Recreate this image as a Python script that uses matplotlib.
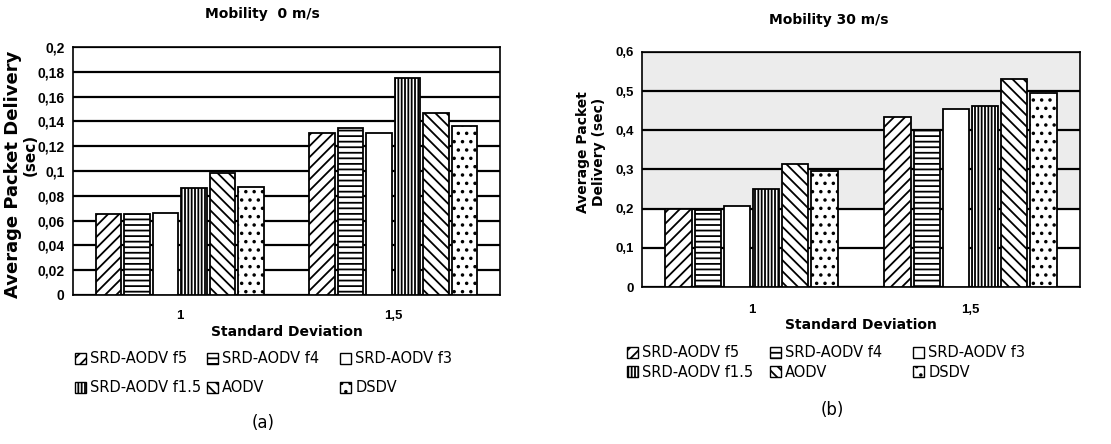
import numpy as np
import matplotlib
matplotlib.use('Agg')
import matplotlib.pyplot as plt
from matplotlib.patches import Patch

plt.rcParams['font.family'] = ['DejaVu Sans']
plt.rcParams['hatch.linewidth'] = 1.3

# data
categories = ['1', '1,5']
series = ['SRD-AODV f5', 'SRD-AODV f4', 'SRD-AODV f3',
          'SRD-AODV f1.5', 'AODV', 'DSDV']
mob0 = {
    'SRD-AODV f5':   [0.065, 0.131],
    'SRD-AODV f4':   [0.065, 0.135],
    'SRD-AODV f3':   [0.066, 0.131],
    'SRD-AODV f1.5': [0.086, 0.175],
    'AODV':          [0.098, 0.147],
    'DSDV':          [0.087, 0.136],
}
mob30 = {
    'SRD-AODV f5':   [0.200, 0.435],
    'SRD-AODV f4':   [0.196, 0.400],
    'SRD-AODV f3':   [0.206, 0.455],
    'SRD-AODV f1.5': [0.250, 0.463],
    'AODV':          [0.313, 0.532],
    'DSDV':          [0.295, 0.495],
}
ticks0 = [0, 0.02, 0.04, 0.06, 0.08, 0.1, 0.12, 0.14, 0.16, 0.18, 0.2]
ticks0_lab = ['0', '0,02', '0,04', '0,06', '0,08', '0,1', '0,12', '0,14',
              '0,16', '0,18', '0,2']
ticks30 = [0, 0.1, 0.2, 0.3, 0.4, 0.5, 0.6]
ticks30_lab = ['0', '0,1', '0,2', '0,3', '0,4', '0,5', '0,6']

hatches = ['///', '---', '', '|||||', '\\\\\\', '..']

fig = plt.figure(figsize=(11.11, 4.44), dpi=100)
ax1 = fig.add_axes([0.0657, 0.3356, 0.3843, 0.5586])
ax2 = fig.add_axes([0.5779, 0.3536, 0.3942, 0.5293])

x = np.arange(len(categories))
slot = 0.8 / len(series)


def draw(ax, data, ticks, labels, ymax, ysize, xpad):
    for i, s in enumerate(series):
        ax.bar(x - 0.4 + slot * (i + 0.5), data[s], width=slot * 0.9,
               color='white', edgecolor='black', linewidth=1.3,
               hatch=hatches[i], zorder=3)
    ax.set_xlim(-0.5, 1.5)
    ax.set_ylim(0, ymax)
    ax.set_yticks(ticks)
    ax.set_yticklabels(labels, fontsize=ysize, fontweight='bold',
                       family='Liberation Sans')
    ax.set_xticks(x)
    ax.set_xticklabels(categories, fontsize=9.5, fontweight='bold',
                       family='Liberation Sans')
    ax.tick_params(axis='y', length=0, pad=6)
    ax.tick_params(axis='x', length=0, pad=xpad)
    ax.yaxis.grid(True, color='black', linewidth=1.6, zorder=1)
    ax.set_axisbelow(True)
    for sp in ax.spines.values():
        sp.set_linewidth(1.2)
    ax.set_xlabel('Standard Deviation', fontsize=10, fontweight='bold',
                  labelpad=2)


draw(ax1, mob0, ticks0, ticks0_lab, 0.2, 10, 11)
draw(ax2, mob30, ticks30, ticks30_lab, 0.6, 9.5, 12)
ax2.axhspan(0.2, 0.6, color='#ececec', zorder=0)

# y labels
fig.text(0.0113, 0.608, 'Average Packet Delivery', rotation=90,
         ha='center', va='center', fontsize=13, fontweight='bold')
fig.text(0.027, 0.651, '(sec)', rotation=90,
         ha='center', va='center', fontsize=11, fontweight='bold')
fig.text(0.532, 0.658, 'Average Packet\nDelivery (sec)', rotation=90,
         ha='center', va='center', fontsize=10, fontweight='bold',
         multialignment='center', linespacing=1.2)

fig.text(0.236, 0.968, 'Mobility  0 m/s', ha='center', va='center',
         fontsize=10, fontweight='bold')
fig.text(0.746, 0.955, 'Mobility 30 m/s', ha='center', va='center',
         fontsize=10, fontweight='bold')

handles = [Patch(facecolor='white', edgecolor='black', hatch=h, label=s)
           for s, h in zip(series, hatches)]

# one small legend per column so the columns sit where the reference has them
cols = [[0, 3], [1, 4], [2, 5]]
left_x = [0.0675, 0.1863, 0.306]
right_x = [0.5644, 0.6931, 0.8218]
for col, lx, rx in zip(cols, left_x, right_x):
    fig.legend([handles[i] for i in col], [series[i] for i in col],
               loc='upper left', bbox_to_anchor=(lx, 0.2085), frameon=False,
               fontsize=10.5, handlelength=0.75, handleheight=0.75,
               handletextpad=0.3, labelspacing=0.95, borderpad=0,
               borderaxespad=0)
    fig.legend([handles[i] for i in col], [series[i] for i in col],
               loc='upper left', bbox_to_anchor=(rx, 0.222), frameon=False,
               fontsize=10.5, handlelength=0.75, handleheight=0.75,
               handletextpad=0.3, labelspacing=0.3, borderpad=0,
               borderaxespad=0)

fig.text(0.237, 0.047, '(a)', ha='center', va='center', fontsize=12)
fig.text(0.749, 0.077, '(b)', ha='center', va='center', fontsize=12)

fig.savefig('out.png', dpi=100)
